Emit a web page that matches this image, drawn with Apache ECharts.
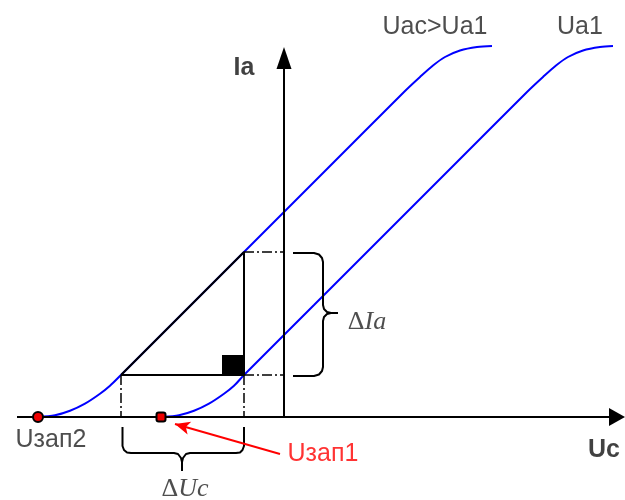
<!DOCTYPE html>
<html><head><meta charset="utf-8">
<script src="https://cdn.jsdelivr.net/npm/echarts@6/dist/echarts.min.js"></script>
<style>html,body{margin:0;padding:0;background:#fff}#c{width:625px;height:500px}</style>
</head><body><div id="c"></div>
<script>
// Schematic units: Uc (grid voltage) horizontally, Ia (anode current) vertically
const curveUa1Uc = [-12.1,-10.5,-9.0,-7.5,-6.0,-5.0,-4.0,3.0,10.0,17.0,24.3,25.9,27.2,28.4,29.9,31.6,32.9];
const curveUa1Ia = [0,0.17,0.62,1.33,2.32,3.12,4.2,11.2,18.2,25.2,32.5,34.0,35.15,36.0,36.65,37.0,37.1];
const curveUacUc = [-24.6,-22.9,-21.4,-19.9,-18.4,-17.4,-16.3,-10.2,-4.0,4.0,12.0,13.6,14.9,16.1,17.6,19.3,20.8];
const curveUacIa = [0,0.17,0.62,1.33,2.32,3.12,4.2,10.3,16.5,24.5,32.5,34.0,35.15,36.0,36.65,37.0,37.1];

const cutoffUc = [-24.6, -12.3];
const cutoffIa = [0, 0];

const triUc = [-16.3, -4.0, -4.0, -16.3];
const triIa = [4.2, 16.5, 4.2, 4.2];
const squareUc = [-6.2, -4.0];
const squareIa = [4.2, 6.2];

const braceUcUc = [-16.15,-16.15,-16.0,-15.7,-15.3,-11.0,-10.6,-10.3,-10.2,-10.2,'-',-4.0,-4.0,-4.15,-4.4,-4.8,-9.4,-9.8,-10.1,-10.2];
const braceUcIa = [-1.0,-2.9,-3.3,-3.55,-3.6,-3.6,-3.7,-4.1,-4.5,-5.4,'-',-1.0,-2.9,-3.3,-3.55,-3.6,-3.6,-3.7,-4.1,-4.5];
const braceIaUc = [0.9,3.0,3.5,3.8,3.9,3.9,4.0,4.3,4.7,5.4,'-',0.9,3.0,3.5,3.8,3.9,3.9,4.0,4.3,4.7];
const braceIaIa = [16.4,16.4,16.25,15.9,15.5,11.2,10.8,10.5,10.4,10.4,'-',4.1,4.1,4.25,4.6,5.0,9.6,10.0,10.3,10.4];

const axisUc = [-26.7, 33.3];
const axisIa = [0, 35.9];
const redArrowUc = [-0.4, -10.9];
const redArrowIa = [-3.7, -0.7];

const labelText = ['Ia', 'Uac>Ua1', 'Ua1', 'Uзап2', 'Uзап1', 'Uc', 'ΔUc', 'ΔIa'];
const labelUc = [-4.0, 15.1, 29.6, -23.3, 3.9, 32.0, -9.9, 8.3];
const labelIa = [34.9, 39.0, 39.0, -2.3, -3.7, -3.3, -7.2, 9.5];

const zip = (a, b) => a.map((v, i) => (v === '-' ? '-' : [v, b[i]]));

const sansStyle = { fontFamily: 'Liberation Sans', fontSize: 25, color: '#222' };
const serifRich = { d: { fontFamily: 'Liberation Serif', fontSize: 26, color: '#222' },
                    i: { fontFamily: 'Liberation Serif', fontSize: 26, fontStyle: 'italic', color: '#222' } };
const labelStyles = [
  Object.assign({}, sansStyle, { fontWeight: 'bold', color: '#111' }),
  sansStyle, sansStyle, sansStyle,
  Object.assign({}, sansStyle, { color: '#ff0000' }),
  Object.assign({}, sansStyle, { fontWeight: 'bold', color: '#111' }),
  { fontFamily: 'Liberation Serif', fontSize: 26, color: '#222', formatter: '{d|Δ}{i|Uc}', rich: serifRich },
  { fontFamily: 'Liberation Serif', fontSize: 26, color: '#222', formatter: '{d|Δ}{i|Ia}', rich: serifRich }
];

const chart = echarts.init(document.getElementById('c'), null, { renderer: 'canvas' });

const dashDot = { color: '#000', width: 1.5, type: [10, 3, 2, 3] };

chart.setOption({
  backgroundColor: '#fff',
  animation: false,
  grid: { left: 0, right: 0, top: 0, bottom: 0 },
  xAxis: { type: 'value', min: -28.4, max: 34.1, show: false },
  yAxis: { type: 'value', min: -8.3, max: 41.7, show: false },
  series: [
    { type: 'lines', coordinateSystem: 'cartesian2d', z: 5,
      symbol: ['none', 'triangle'], symbolSize: [1, [18, 16]],
      lineStyle: { color: '#000', width: 2, opacity: 1 },
      data: [{ coords: [[axisUc[0], 0], [axisUc[1], 0]] }] },
    { type: 'lines', coordinateSystem: 'cartesian2d', z: 5,
      symbol: ['none', 'triangle'], symbolSize: [1, [15, 22]],
      lineStyle: { color: '#000', width: 2, opacity: 1 },
      data: [{ coords: [[0, axisIa[0]], [0, axisIa[1]]] }] },
    { type: 'line', data: zip(curveUacUc, curveUacIa), showSymbol: false, smooth: 0.3,
      lineStyle: { color: '#0000ff', width: 2 }, z: 3 },
    { type: 'line', data: zip(curveUa1Uc, curveUa1Ia), showSymbol: false, smooth: 0.3,
      lineStyle: { color: '#0000ff', width: 2 }, z: 3 },
    { type: 'line', data: zip(triUc, triIa), showSymbol: false, lineStyle: { color: '#000', width: 2 }, z: 6,
      markArea: { silent: true, itemStyle: { color: '#000', opacity: 1 },
        data: [[{ coord: [squareUc[0], squareIa[0]] }, { coord: [squareUc[1], squareIa[1]] }]] } },
    { type: 'line', data: [[triUc[0], triIa[0]], [triUc[0], 0]], showSymbol: false, lineStyle: dashDot, z: 4 },
    { type: 'line', data: [[triUc[1], triIa[2]], [triUc[1], 0]], showSymbol: false, lineStyle: dashDot, z: 4 },
    { type: 'line', data: [[triUc[1], triIa[1]], [0, triIa[1]]], showSymbol: false, lineStyle: dashDot, z: 4 },
    { type: 'line', data: [[triUc[1], triIa[2]], [0, triIa[2]]], showSymbol: false, lineStyle: dashDot, z: 4 },
    { type: 'line', data: zip(braceUcUc, braceUcIa), showSymbol: false, connectNulls: false,
      lineStyle: { color: '#000', width: 2 }, z: 4 },
    { type: 'line', data: zip(braceIaUc, braceIaIa), showSymbol: false, connectNulls: false,
      lineStyle: { color: '#000', width: 2 }, z: 4 },
    { type: 'lines', coordinateSystem: 'cartesian2d', z: 7,
      symbol: ['none', 'arrow'], symbolSize: [1, [10, 15]],
      lineStyle: { color: '#ff0000', width: 2, opacity: 1 },
      data: [{ coords: [[redArrowUc[0], redArrowIa[0]], [redArrowUc[1], redArrowIa[1]]] }] },
    { type: 'scatter', z: 8, data: [
        { value: [cutoffUc[0], cutoffIa[0]], symbol: 'circle', symbolSize: 10 },
        { value: [cutoffUc[1], cutoffIa[1]], symbol: 'roundRect', symbolSize: 9 }
      ],
      itemStyle: { color: '#ee0000', borderColor: '#000', borderWidth: 2, opacity: 1 } },
    { type: 'scatter', z: 9, symbolSize: 0, silent: true,
      data: labelText.map((t, i) => ({ value: [labelUc[i], labelIa[i]], name: t,
        label: Object.assign({ show: true, position: 'inside', formatter: t, align: 'center', verticalAlign: 'middle' }, labelStyles[i]) })) }
  ]
});
</script></body></html>
